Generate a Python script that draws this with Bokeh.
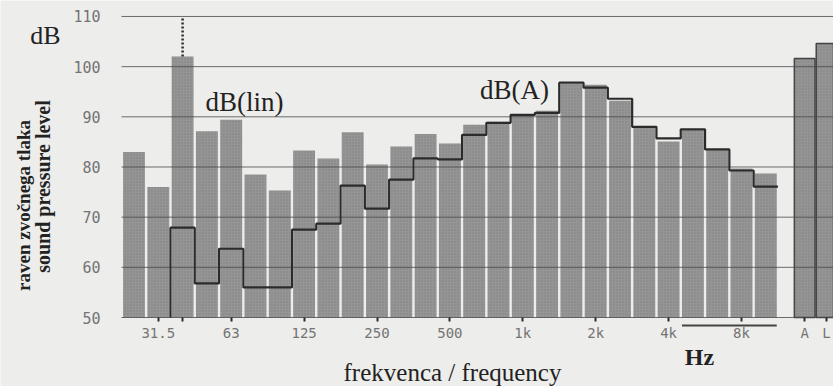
import math
from bokeh.plotting import figure
from bokeh.models import Range1d, Label, FixedTicker
from bokeh.embed import file_html
from bokeh.resources import INLINE

# ---- data ----
bands = ["25", "31.5", "40", "50", "63", "80", "100", "125", "160", "200", "250",
         "315", "400", "500", "630", "800", "1k", "1.25k", "1.6k", "2k", "2.5k",
         "3.15k", "4k", "5k", "6.3k", "8k", "10k"]
lin_db = [83.0, 76.0, 102.0, 87.1, 89.4, 78.5, 75.3, 83.3, 81.7, 86.9, 80.5,
          84.1, 86.6, 84.7, 88.4, 89.0, 90.4, 91.2, 96.6, 96.4, 93.2,
          87.8, 85.1, 87.3, 83.5, 79.7, 78.7]
# A-weighted levels; the two lowest bands lie below the 50 dB floor (not shown)
a_db = [None, None, 67.9, 56.8, 63.7, 56.0, 56.0, 67.5, 68.7, 76.3, 71.7,
        77.5, 81.7, 81.5, 86.4, 88.8, 90.4, 90.8, 96.8, 95.8, 93.6,
        88.0, 85.7, 87.5, 83.5, 79.3, 76.1]
total_labels = ["A", "L"]
total_db = [101.6, 104.6]
tick_bands = ["31.5", "63", "125", "250", "500", "1k", "2k", "4k", "8k"]
tick_labels = ["31.5", "63", "125", "250", "500", "1k", "2k", "4k", "8k"]
peak_band = "40"
bracket_bands = ["5k", "10k"]
y_ticks = [50, 60, 70, 80, 90, 100, 110]

# ---- layout: frame covers the canvas, axes are pinned inside it ----
W, H = 833, 386
PX_X = 24.3          # pixels per band
PX_Y = 5.017         # pixels per dB
C0, BASE = 133.5, 317  # canvas px of first band centre / of the 50 dB floor
X0, X1 = -C0 / PX_X, (W - C0) / PX_X
Y0, Y1 = 50 - (H - BASE) / PX_Y, 50 + BASE / PX_Y
FLOOR = min(y_ticks)

def dx(px):
    return (px - C0) / PX_X

def dy(py):
    return FLOOR + (BASE - py) / PX_Y

BG = "#ededeb"
BAR = "#959595"
DARK = "#2b2b2b"
SERIF = "Liberation Serif"
MONO = "DejaVu Sans Mono"

p = figure(width=W, height=H, output_backend="svg", toolbar_location=None,
           x_range=Range1d(X0, X1), y_range=Range1d(Y0, Y1),
           min_border_left=0, min_border_right=0, min_border_top=0,
           min_border_bottom=0)
p.background_fill_color = BG
p.border_fill_color = BG
p.outline_line_color = None
p.xgrid.visible = False
p.ygrid.visible = False

left_edge = -0.5 - 0.014   # left end of the plotting area (just before first bar)

idx = list(range(len(bands)))
p.vbar(x=idx, top=lin_db, bottom=FLOOR, width=0.9, fill_color=BAR, line_color=None,
       hatch_pattern="dot", hatch_color="#666666", hatch_alpha=0.45, hatch_scale=3)

n = len(bands)
tot_x = [n + 0.6, n + 1.5]
p.vbar(x=tot_x, top=total_db, bottom=FLOOR, width=0.85, fill_color=BAR,
       line_color="#444444", line_width=1.5,
       hatch_pattern="dot", hatch_color="#666666", hatch_alpha=0.45, hatch_scale=3)

# horizontal grid lines
p.segment(x0=[left_edge] * len(y_ticks), y0=y_ticks, x1=[X1] * len(y_ticks), y1=y_ticks,
          line_color="#4a4a4a", line_alpha=0.8, line_width=1)

# A-weighted step line (rises from the floor at the first visible band)
first = next(i for i, v in enumerate(a_db) if v is not None)
sx, sy = [first - 0.5], [FLOOR]
for i in range(first, n):
    sx += [i - 0.5, i + 0.5]
    sy += [a_db[i], a_db[i]]
p.line(sx, sy, line_color=DARK, line_width=2.2)

# peak marker
ip = bands.index(peak_band)
p.segment(x0=[ip], y0=[lin_db[ip]], x1=[ip], y1=[max(y_ticks)],
          line_color=DARK, line_width=2.5, line_dash="2 2")

# bracket under the top bands
b0, b1 = bands.index(bracket_bands[0]), bands.index(bracket_bands[1])
yb = FLOOR - 8 / PX_Y
p.segment(x0=[b0 - 0.45], y0=[yb], x1=[b1 + 0.45], y1=[yb],
          line_color="#444444", line_width=2)

# axes
xt = [bands.index(b) for b in tick_bands] + [ip] + tot_x
overrides = {bands.index(b): lab for b, lab in zip(tick_bands, tick_labels)}
overrides[ip] = ""
overrides[tot_x[0]] = total_labels[0]
overrides[tot_x[1]] = total_labels[1]
xa = p.xaxis[0]
xa.fixed_location = FLOOR
xa.ticker = FixedTicker(ticks=xt)
xa.major_label_overrides = overrides
xa.axis_line_color = None
xa.major_tick_line_color = DARK
xa.major_tick_line_width = 2
xa.major_tick_out = 4
xa.major_tick_in = 0
xa.minor_tick_line_color = None
xa.major_label_standoff = 3
xa.major_label_text_font = MONO
xa.major_label_text_font_size = "14px"
xa.major_label_text_color = "#747474"

ya = p.yaxis[0]
ya.fixed_location = left_edge
ya.ticker = FixedTicker(ticks=y_ticks)
ya.axis_line_color = None
ya.major_tick_line_color = None
ya.minor_tick_line_color = None
ya.major_label_standoff = 15
ya.major_label_text_font = MONO
ya.major_label_text_font_size = "15px"
ya.major_label_text_color = "#747474"

def lab(text, px, py, size, style="normal", font=SERIF, angle=0.0, color="#222222"):
    p.add_layout(Label(x=dx(px), y=dy(py), text=text, angle=angle,
                       text_align="center", text_baseline="middle",
                       text_font=font, text_font_size=size,
                       text_font_style=style, text_color=color))

lab("dB", 45, 35, "26px")
lab("dB(lin)", 244, 101, "27px")
lab("dB(A)", 514, 89, "27px")
lab("Hz", 699, 356, "24px", style="bold")
lab("frekvenca / frequency", 452, 372, "25px")
lab("raven zvočnega tlaka", 23, 205, "19px", style="bold", font=SERIF, angle=math.pi / 2)
lab("sound pressure level", 42, 186, "20px", style="bold", font=SERIF, angle=math.pi / 2)

open("out.html", "w").write(file_html(p, INLINE))
